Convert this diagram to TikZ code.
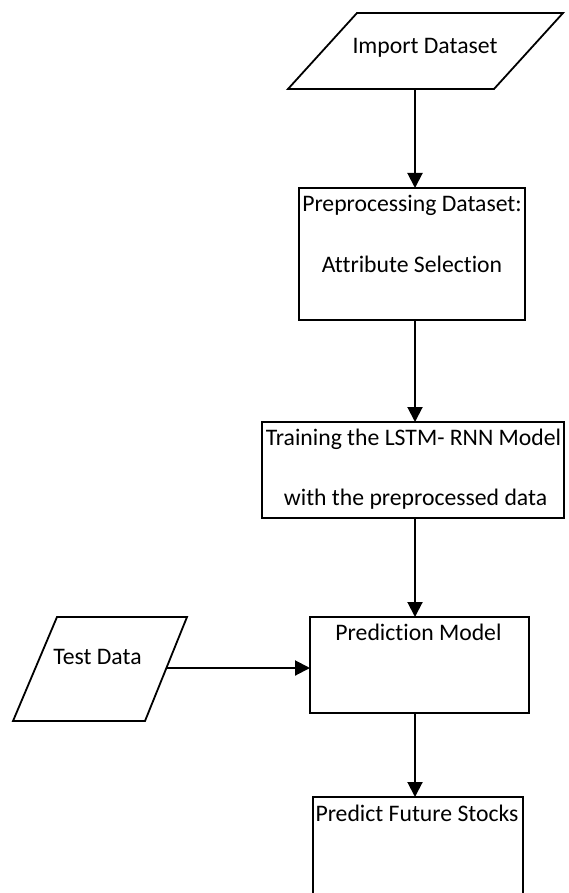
\documentclass[tikz,border=0pt]{standalone}
\usepackage{fontspec}
\setmainfont[Ligatures=NoCommon]{Carlito}
\usetikzlibrary{arrows.meta}
\begin{document}
\begin{tikzpicture}[x=1pt,y=-1pt,
  line width=1.8pt,
  boxnode/.style={draw, rectangle, inner sep=0pt, outer sep=0pt},
  lbl/.style={anchor=base, inner sep=0pt, font=\fontsize{23.7}{28}\selectfont},
  arr/.style={-{Triangle[width=15pt,length=15pt]}, line width=2pt}
]
\useasboundingbox (0,0) rectangle (568,893);
\fill[white] (0,0) rectangle (568,893);
\clip (0,0) rectangle (568,893);

% parallelograms (input / data)
\draw[line join=miter] (288,89) -- (357,13) -- (563,13) -- (494,89) -- cycle;
\coordinate (import) at (415,89);
\draw[line join=miter] (13,721) -- (57,617) -- (187,617) -- (145,721) -- cycle;
\coordinate (test) at (166,668);

% boxes
\node[boxnode, minimum width=226pt, minimum height=132pt] (prep) at (412,254) {};
\node[boxnode, minimum width=302pt, minimum height=96pt] (train) at (413,470) {};
\node[boxnode, minimum width=219pt, minimum height=96pt] (pred) at (419.5,665) {};
\node[boxnode, minimum width=210pt, minimum height=163pt] (future) at (418,878.5) {};

% texts
\node[lbl] (timport) at (425,54) {Import Dataset};
\node[lbl] (tprepa) at (412,212) {Preprocessing Dataset:};
\node[lbl] (tprepb) at (412,272) {Attribute Selection};
\node[lbl] (ttraina) at (413.5,445) {Training the LSTM- RNN Model};
\node[lbl] (ttrainb) at (415.5,505) {with the preprocessed data};
\node[lbl] (tpred) at (418.5,640) {Prediction Model};
\node[lbl] (ttest) at (97.5,664) {Test Data};
\node[lbl] (tfuture) at (417,821) {Predict Future Stocks};

% connectors
\coordinate (spine) at (415,0);
\draw[arr] (import) -- (prep.north -| spine);
\draw[arr] (prep.south -| spine) -- (train.north -| spine);
\draw[arr] (train.south -| spine) -- (pred.north -| spine);
\draw[arr] (pred.south -| spine) -- (future.north -| spine);
\draw[arr] (test) -- (test -| pred.west);
\end{tikzpicture}
\end{document}
